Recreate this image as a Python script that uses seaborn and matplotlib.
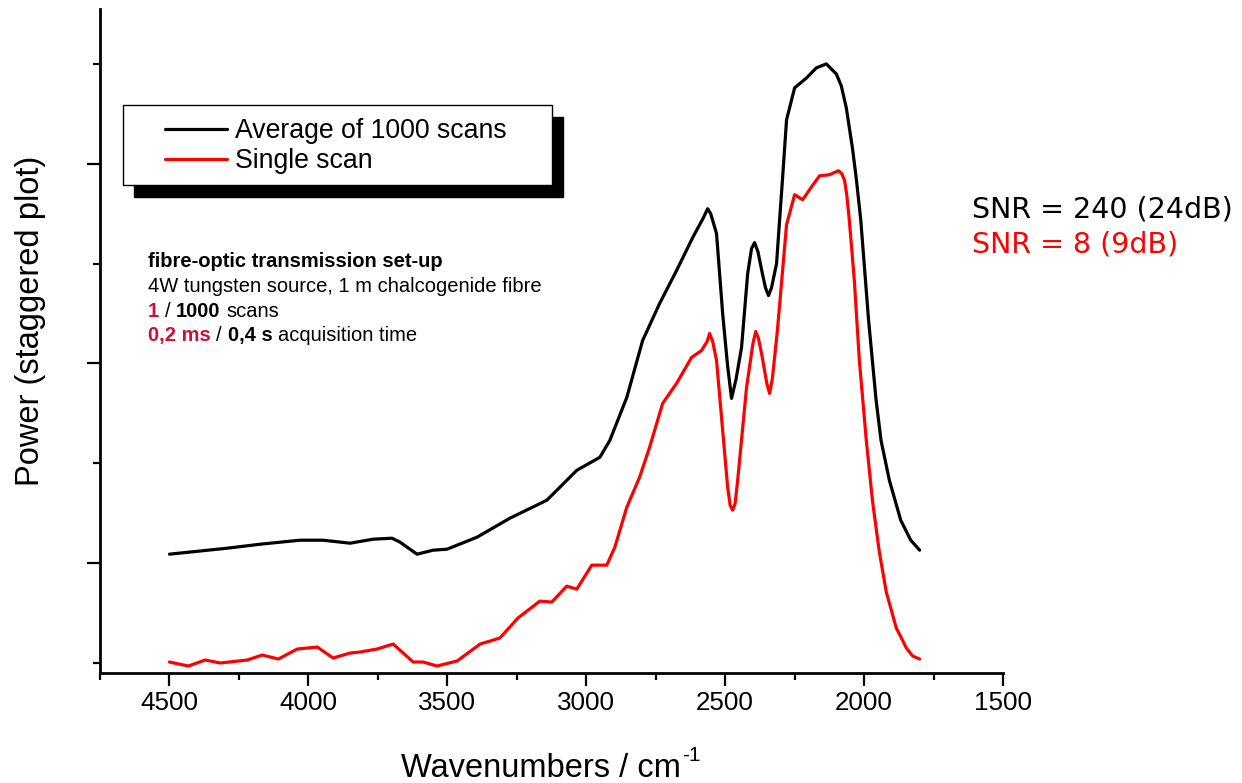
import matplotlib
matplotlib.use("Agg")
import matplotlib.pyplot as plt
from matplotlib.patches import Rectangle
from matplotlib.ticker import MultipleLocator, FixedLocator
import seaborn as sns

# ── Data ──────────────────────────────────────────────────────
avg_wn = [4500, 4292, 4173, 4030, 3947, 3850, 3767, 3699, 3670, 3609,
          3551, 3501, 3393, 3275, 3142, 3095, 3034, 2951, 2915, 2854,
          2797, 2736, 2675, 2617, 2580, 2563, 2552, 2531, 2509, 2491,
          2477, 2461, 2441, 2419, 2405, 2394, 2382, 2366, 2355, 2344,
          2333, 2315, 2305, 2294, 2279, 2250, 2207, 2172, 2136, 2100,
          2082, 2064, 2042, 2028, 2012, 1984, 1957, 1939, 1909, 1868,
          1832, 1800]
avg_pw = [1.09, 1.15, 1.19, 1.23, 1.23, 1.20, 1.24, 1.25, 1.21, 1.09,
          1.13, 1.14, 1.26, 1.45, 1.63, 1.76, 1.93, 2.06, 2.23, 2.66,
          3.23, 3.60, 3.93, 4.26, 4.45, 4.55, 4.50, 4.30, 3.50, 2.97,
          2.65, 2.84, 3.16, 3.90, 4.15, 4.21, 4.12, 3.90, 3.76, 3.68,
          3.76, 4.00, 4.40, 4.83, 5.44, 5.76, 5.86, 5.96, 6.00, 5.90,
          5.78, 5.56, 5.16, 4.85, 4.44, 3.44, 2.64, 2.23, 1.83, 1.43,
          1.23, 1.13]

single_wn = [4500, 4432, 4371, 4317, 4220, 4166, 4108, 4040, 3968, 3911,
             3850, 3814, 3753, 3695, 3623, 3587, 3537, 3465, 3382, 3311,
             3246, 3167, 3124, 3070, 3034, 2980, 2926, 2897, 2854, 2808,
             2772, 2725, 2675, 2621, 2585, 2565, 2556, 2545, 2531, 2509,
             2491, 2482, 2473, 2464, 2455, 2423, 2400, 2390, 2380, 2369,
             2350, 2340, 2330, 2312, 2279, 2250, 2221, 2189, 2160, 2125,
             2092, 2080, 2070, 2062, 2053, 2035, 2017, 1992, 1970, 1945,
             1920, 1884, 1860, 1848, 1825, 1800]
single_pw = [0.01, -0.03, 0.03, 0.00, 0.03, 0.08, 0.04, 0.14, 0.16, 0.05,
             0.10, 0.11, 0.14, 0.19, 0.01, 0.01, -0.03, 0.02, 0.19, 0.25,
             0.45, 0.62, 0.61, 0.77, 0.74, 0.98, 0.98, 1.16, 1.56, 1.86,
             2.16, 2.60, 2.80, 3.06, 3.13, 3.22, 3.30, 3.22, 3.03, 2.33,
             1.76, 1.58, 1.53, 1.60, 1.83, 2.76, 3.20, 3.32, 3.25, 3.10,
             2.80, 2.70, 2.85, 3.33, 4.39, 4.69, 4.64, 4.77, 4.88, 4.89,
             4.93, 4.90, 4.83, 4.68, 4.43, 3.83, 3.03, 2.23, 1.63, 1.11,
             0.71, 0.35, 0.22, 0.15, 0.07, 0.04]

series_labels = ["Average of 1000 scans", "Single scan"]
snr_labels = ["SNR = 240 (24dB)", "SNR = 8 (9dB)"]
x_ticks = [4500, 4000, 3500, 3000, 2500, 2000, 1500]

# ── Style ─────────────────────────────────────────────────────
sns.set_style("ticks")
plt.rcParams["font.family"] = ["Liberation Sans", "DejaVu Sans"]
plt.rcParams["mathtext.default"] = "regular"
plt.rcParams["text.color"] = "black"
plt.rcParams["axes.labelcolor"] = "black"
plt.rcParams["xtick.color"] = "black"
plt.rcParams["ytick.color"] = "black"

RED = "#ff0000"
CRIMSON = "#cc1036"

fig = plt.figure(figsize=(12.42, 7.83), dpi=100)
ax = fig.add_axes([100 / 1242, 110 / 783, 903 / 1242, 664 / 783])

sns.lineplot(x=avg_wn, y=avg_pw, ax=ax, color="black", lw=2.3,
             label=series_labels[0], estimator=None)
sns.lineplot(x=single_wn, y=single_pw, ax=ax, color=RED, lw=2.3,
             label=series_labels[1], estimator=None)

ax.set_xlim(4750, 1500)
ax.set_ylim(-0.10, 6.55)
sns.despine(ax=ax)
for s in ("left", "bottom"):
    ax.spines[s].set_linewidth(2.0)
    ax.spines[s].set_color("black")

ax.xaxis.set_major_locator(FixedLocator(x_ticks))
ax.xaxis.set_minor_locator(MultipleLocator(250))
ax.yaxis.set_major_locator(FixedLocator([1, 3, 5]))
ax.yaxis.set_minor_locator(FixedLocator([0, 2, 4, 6]))
ax.set_yticklabels([])
ax.tick_params(which="major", direction="out", length=9.5, width=1.6,
               color="black", labelcolor="black", labelsize=18.7, pad=3.5)
ax.tick_params(which="minor", direction="out", length=5, width=1.6,
               color="black")

ax.set_xlabel("Wavenumbers / cm", fontsize=23.5, va="baseline", color="black")
ax.xaxis.set_label_coords(0.488, -0.157)
ax.annotate("-1", xy=(1, 1), xycoords=ax.xaxis.label, xytext=(1, 5),
            textcoords="offset points", fontsize=15, ha="left", va="top",
            color="black")
ax.set_ylabel("Power (staggered plot)", fontsize=23.5, va="center", color="black")
ax.yaxis.set_label_coords(-0.0775, 0.53)

# ── Legend with hard shadow ───────────────────────────────────
leg = ax.legend(loc="upper left", bbox_to_anchor=(0.072, 0.836),
                frameon=False, fontsize=19.2, borderpad=0, borderaxespad=0,
                handlelength=2.32, handletextpad=0.3, labelspacing=0.15)
leg.set_zorder(6)
for t in leg.get_texts():
    t.set_color("black")
ax.add_patch(Rectangle((0.0377, 0.7169), 0.4751, 0.1205, transform=ax.transAxes,
                       facecolor="black", edgecolor="black", zorder=4,
                       clip_on=False))
ax.add_patch(Rectangle((0.0255, 0.7349), 0.4751, 0.1205, transform=ax.transAxes,
                       facecolor="white", edgecolor="black", lw=1.0, zorder=5,
                       clip_on=False))

# ── Set-up annotation (mixed colour / weight runs) ────────────
def rich_line(x, y, pieces, size=14.5):
    gap = 0.278 * size
    prev = None
    for txt, color, weight in pieces:
        if prev is None:
            prev = ax.text(x, y, txt, transform=ax.transAxes, color=color,
                           fontweight=weight, fontsize=size, va="baseline",
                           ha="left", zorder=7)
        else:
            prev = ax.annotate(txt, xy=(1, 0), xycoords=prev,
                               xytext=(gap, 0), textcoords="offset points",
                               color=color, fontweight=weight, fontsize=size,
                               va="bottom", ha="left", zorder=7)

setup_lines = [
    [("fibre-optic transmission set-up", "black", "bold")],
    [("4W tungsten source, 1 m chalcogenide fibre", "black", "normal")],
    [("1", CRIMSON, "bold"), ("/", "black", "normal"),
     ("1000", "black", "bold"), ("scans", "black", "normal")],
    [("0,2 ms", CRIMSON, "bold"), ("/", "black", "normal"),
     ("0,4 s", "black", "bold"), ("acquisition time", "black", "normal")],
]
line_y = [0.6114, 0.5738, 0.5361, 0.5000]
for pieces, yy in zip(setup_lines, line_y):
    rich_line(0.0532, yy, pieces)

# ── SNR labels ────────────────────────────────────────────────
ax.text(0.9657, 0.6867, snr_labels[0], transform=ax.transAxes, color="black",
        fontsize=20.5, family="DejaVu Sans", va="baseline", ha="left")
ax.text(0.9657, 0.634, snr_labels[1], transform=ax.transAxes, color=RED,
        fontsize=20.5, family="DejaVu Sans", va="baseline", ha="left")

fig.savefig("out.png", dpi=100)
